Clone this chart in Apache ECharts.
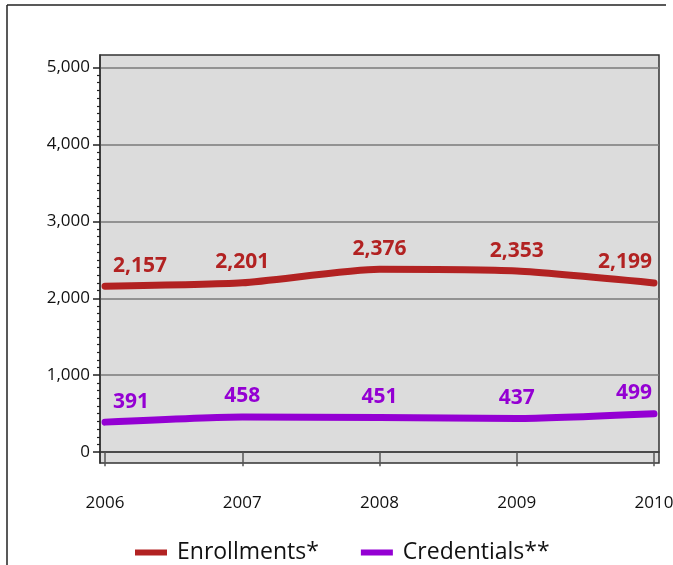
<!DOCTYPE html>
<html>
<head>
<meta charset="utf-8">
<script src="https://cdn.jsdelivr.net/npm/echarts@6/dist/echarts.min.js"></script>
<style>
  html, body { margin: 0; padding: 0; background: #fff; overflow: hidden; }
  #chart { width: 673px; height: 565px; }
</style>
</head>
<body>
<div id="chart"></div>
<script>
  const years = [2006, 2007, 2008, 2009, 2010];
  const enrollments = [2157, 2201, 2376, 2353, 2199];
  const credentials = [391, 458, 451, 437, 499];
  const yTicks = [0, 1000, 2000, 3000, 4000, 5000];
  const yMinorStep = 100;

  const RED = "#B22222";
  const PURPLE = "#9400D3";
  const FONT = "Open Sans";

  const yMinorTicks = [];
  for (let v = yMinorStep; v < yTicks[yTicks.length - 1]; v += yMinorStep) {
    if (!yTicks.includes(v)) yMinorTicks.push(v);
  }

  const fmt = (v) => v.toLocaleString("en-US");

  // first label hugs the right of its point, last one the left
  function pointLabel(i, color) {
    const label = {
      show: true,
      position: "top",
      distance: 10,
      color,
      fontFamily: FONT,
      fontWeight: "bold",
      fontSize: 21,
      formatter: (p) => fmt(p.value[1]),
    };
    if (i === 0) {
      label.align = "left";
      label.offset = [8, 0];
    } else if (i === years.length - 1) {
      label.align = "right";
      label.offset = [-2, 0];
    }
    return label;
  }

  function makeSeries(name, values, color) {
    return {
      name,
      type: "line",
      smooth: 0.2,
      symbol: "circle",
      symbolSize: 0.1,
      showSymbol: true,
      lineStyle: { color, width: 7, cap: "round", join: "round" },
      itemStyle: { color },
      data: years.map((y, i) => ({ value: [y, values[i]], label: pointLabel(i, color) })),
    };
  }

  const chart = echarts.init(document.getElementById("chart"));

  chart.setOption({
    animation: false,
    textStyle: { fontFamily: FONT },
    graphic: [
      {
        type: "line",
        shape: { x1: 7, y1: 5, x2: 666, y2: 5 },
        style: { stroke: "#222", lineWidth: 1.5 },
        silent: true,
      },
      {
        type: "line",
        shape: { x1: 7, y1: 5, x2: 7, y2: 565 },
        style: { stroke: "#222", lineWidth: 1.5 },
        silent: true,
      },
    ],
    grid: {
      left: 100,
      right: 14,
      top: 55,
      bottom: 102,
      outerBoundsMode: "none",
      show: true,
      backgroundColor: "#DCDCDC",
      borderColor: "#333",
      borderWidth: 1.5,
    },
    legend: {
      left: 135,
      top: 541,
      padding: 0,
      itemWidth: 32,
      itemHeight: 6,
      itemGap: 42,
      icon: "rect",
      textStyle: { fontFamily: FONT, fontSize: 23, color: "#111", padding: [0, 0, 0, 5] },
      data: ["Enrollments*", "Credentials**"],
    },
    xAxis: {
      type: "value",
      min: 2006 - 5 / 137.25,
      max: 2010 + 5 / 137.25,
      axisLine: { show: true, lineStyle: { color: "#333", width: 1.5 } },
      axisTick: {
        show: true,
        customValues: years,
        length: 14,
        lineStyle: { color: "#555", width: 1.5 },
      },
      axisLabel: {
        customValues: years,
        margin: 32,
        color: "#111",
        fontFamily: FONT,
        fontSize: 17,
        formatter: (v) => String(v),
      },
      splitLine: { show: false },
    },
    yAxis: [
      {
        type: "value",
        min: -140,
        max: 5160,
        position: "left",
        axisLine: { show: true, lineStyle: { color: "#333", width: 1.5 } },
        axisTick: {
          show: true,
          customValues: yTicks,
          length: 7,
          lineStyle: { color: "#222", width: 1.5 },
        },
        axisLabel: {
          customValues: yTicks,
          margin: 10,
          color: "#111",
          fontFamily: FONT,
          fontSize: 17,
          formatter: (v) => fmt(v),
        },
        splitLine: { show: true, lineStyle: { color: "#7a7a7a", width: 1.5 } },
      },
      {
        type: "value",
        min: -140,
        max: 5160,
        position: "left",
        axisLine: { show: false },
        axisTick: {
          show: true,
          customValues: yMinorTicks,
          length: 3,
          lineStyle: { color: "#222", width: 1.2 },
        },
        axisLabel: { show: false },
        splitLine: { show: false },
      },
    ],
    series: [
      makeSeries("Enrollments*", enrollments, RED),
      makeSeries("Credentials**", credentials, PURPLE),
    ],
  });
</script>
</body>
</html>
